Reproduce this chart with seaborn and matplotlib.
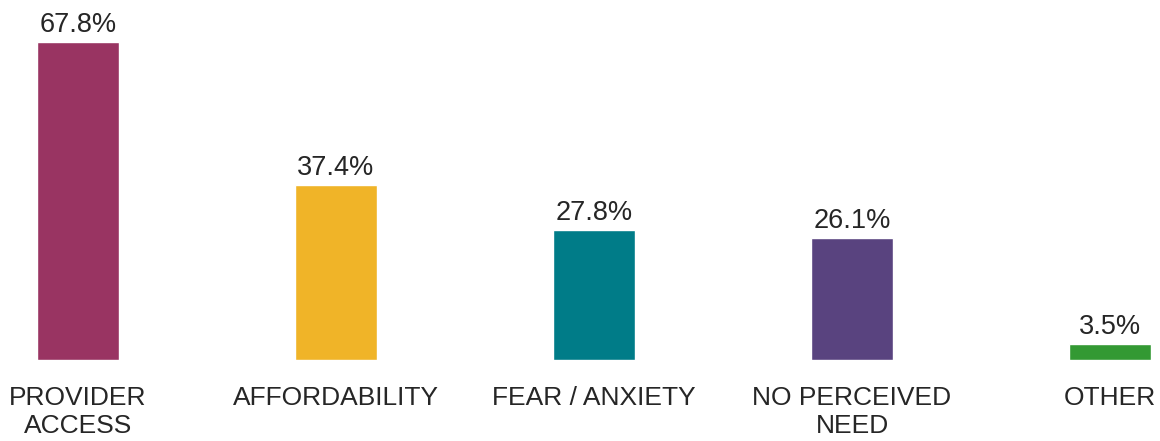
import matplotlib
matplotlib.use("Agg")
import matplotlib.pyplot as plt
import seaborn as sns
import pandas as pd

categories = ["PROVIDER\nACCESS", "AFFORDABILITY", "FEAR / ANXIETY", "NO PERCEIVED\nNEED", "OTHER"]
values = [67.8, 37.4, 27.8, 26.1, 3.5]
colors = ["#993462", "#F0B428", "#007C88", "#59437F", "#339933"]

sns.set_theme(style="white")
plt.rcParams["font.family"] = ["Liberation Sans", "DejaVu Sans"]

df = pd.DataFrame({"cat": categories, "val": values})

fig = plt.figure(figsize=(11.6, 4.41), dpi=100)
ax = fig.add_axes([0, 81 / 441, 1, 360 / 441])
sns.barplot(data=df, x="cat", y="val", hue="cat", palette=colors, legend=False,
            width=0.314, ax=ax, saturation=1)

ax.set_xlim(-78 / 258, 4 + 50 / 258)
ax.set_ylim(0, 360 / (318 / 67.8))
for s in ax.spines.values():
    s.set_visible(False)
ax.set_yticks([])
ax.set_xlabel("")
ax.set_ylabel("")
ax.tick_params(axis="x", length=0, pad=19, labelsize=19, labelcolor="#262626")
for lbl in ax.get_xticklabels():
    lbl.set_linespacing(1.2)

for i, v in enumerate(values):
    ax.annotate(f"{v:.1f}%", (i, v), xytext=(0, 7), textcoords="offset points",
                ha="center", va="baseline", fontsize=19.5, color="#262626")

fig.savefig("out.png", dpi=100)
